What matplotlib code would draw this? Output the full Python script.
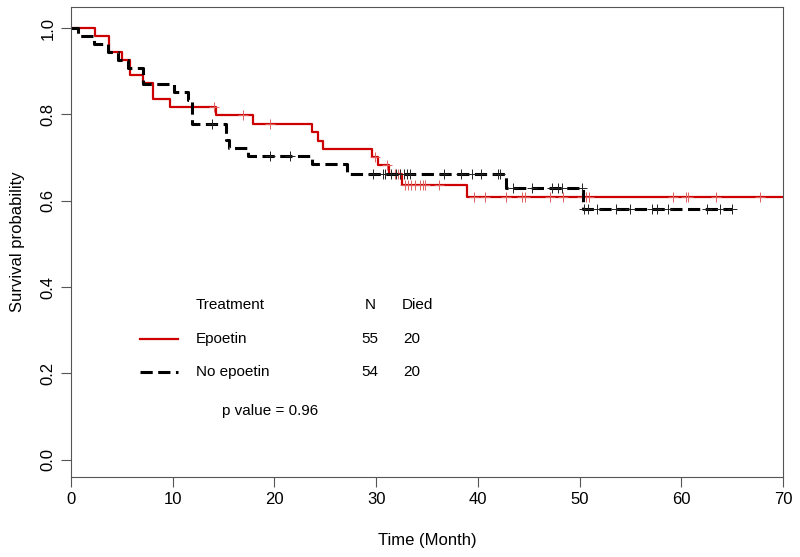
import numpy as np
import matplotlib
matplotlib.use('Agg')
import matplotlib.pyplot as plt

plt.rcParams['font.family'] = ['Liberation Sans', 'DejaVu Sans']

# Kaplan-Meier steps
epo_t = [0, 2.4, 3.7, 5.0, 5.8, 7.05, 8.1, 9.7, 14.3, 17.9, 23.7, 24.3, 24.8,
         29.6, 30.15, 31.3, 32.5, 38.9, 70]
epo_s = [1.0, 0.982, 0.945, 0.927, 0.891, 0.873, 0.836, 0.818, 0.799, 0.779,
         0.759, 0.739, 0.719, 0.701, 0.682, 0.662, 0.637, 0.608, 0.608]
epo_cens = [14.1, 16.9, 19.6, 29.9, 31.1, 31.9, 32.1, 32.35, 32.8, 33.1, 33.4,
            33.8, 34.3, 34.6, 34.8, 36.2, 39.6, 40.7, 42.8, 44.3, 44.6, 47.1,
            48.4, 50.2, 50.6, 50.9, 59.2, 60.5, 60.7, 63.4, 67.7]

noepo_t = [0, 0.65, 2.3, 3.6, 4.65, 5.6, 7.1, 10.1, 11.5, 11.9, 15.2, 15.5,
           17.4, 23.7, 27.1, 42.8, 50.3, 65]
noepo_s = [1.0, 0.981, 0.963, 0.944, 0.926, 0.907, 0.870, 0.852, 0.833, 0.778,
           0.741, 0.722, 0.704, 0.685, 0.661, 0.629, 0.58, 0.58]
noepo_cens = [13.9, 19.6, 21.5, 29.7, 30.7, 30.9, 31.5, 32.0, 32.3, 32.7, 33.0,
              33.3, 36.7, 38.3, 39.4, 40.3, 42.0, 42.2, 43.5, 45.3, 47.3, 47.9,
              48.3, 50.2, 50.4, 50.8, 51.7, 53.6, 55.0, 57.1, 57.6, 58.7, 62.5,
              63.8, 65.0]

groups = ['Epoetin', 'No epoetin']
n_pat = [55, 54]
n_died = [20, 20]
p_value = 0.96

red = '#cc0000'


def surv_at(times, surv, t):
    i = np.searchsorted(times, t, side='right') - 1
    return np.array(surv)[i]


fig = plt.figure(figsize=(8, 5.57), dpi=100)
ax = fig.add_axes([0.08875, 0.1436, 0.89, 0.8438])

ax.step(epo_t, epo_s, where='post', color=red, lw=1.6)
ax.plot(epo_cens, surv_at(epo_t, epo_s, epo_cens), ls='none', marker='+',
        ms=7, mew=0.7, color='#e06060')

ax.step(noepo_t, noepo_s, where='post', color='black', lw=2.2,
        dashes=(4, 1.8), dash_capstyle='butt')
ax.plot(noepo_cens, surv_at(noepo_t, noepo_s, noepo_cens), ls='none',
        marker='+', ms=7, mew=0.7, color='#222222')

ax.set_xlim(0, 70)
ax.set_ylim(-0.04, 1.049)
ax.set_xticks(range(0, 71, 10))
ax.set_yticks([0, 0.2, 0.4, 0.6, 0.8, 1.0])
ax.set_yticklabels(['0.0', '0.2', '0.4', '0.6', '0.8', '1.0'], rotation=90,
                   va='center')
ax.tick_params(direction='out', length=7, width=0.8, color='#555555',
               labelsize=12, pad=4)
for s in ax.spines.values():
    s.set_color('#555555')
    s.set_linewidth(0.8)

fig.text(0.534, 0.0305, 'Time (Month)', ha='center', va='center', fontsize=12)
fig.text(0.0225, 0.5655, 'Survival probability', ha='center', va='center',
         rotation=90, fontsize=12)

# legend table
ax.text(12.29, 0.359, 'Treatment', fontsize=11, va='center')
ax.text(29.4, 0.359, 'N', fontsize=11, va='center', ha='center')
ax.text(32.5, 0.359, 'Died', fontsize=11, va='center')
rows_y = [0.279, 0.203]
for g, n, d, yy in zip(groups, n_pat, n_died, rows_y):
    ax.text(12.29, yy, g, fontsize=11, va='center')
    ax.text(29.4, yy, str(n), fontsize=11, va='center', ha='center')
    ax.text(33.5, yy, str(d), fontsize=11, va='center', ha='center')
ax.plot([6.8, 10.5], [rows_y[0]] * 2, color=red, lw=1.6)
ax.plot([6.8, 10.5], [rows_y[1]] * 2, color='black', lw=2.2,
        dashes=(4, 1.8), dash_capstyle='butt')
ax.text(14.8, 0.113, 'p value = ' + str(p_value), fontsize=11, va='center')

fig.savefig('out.png', dpi=100)
